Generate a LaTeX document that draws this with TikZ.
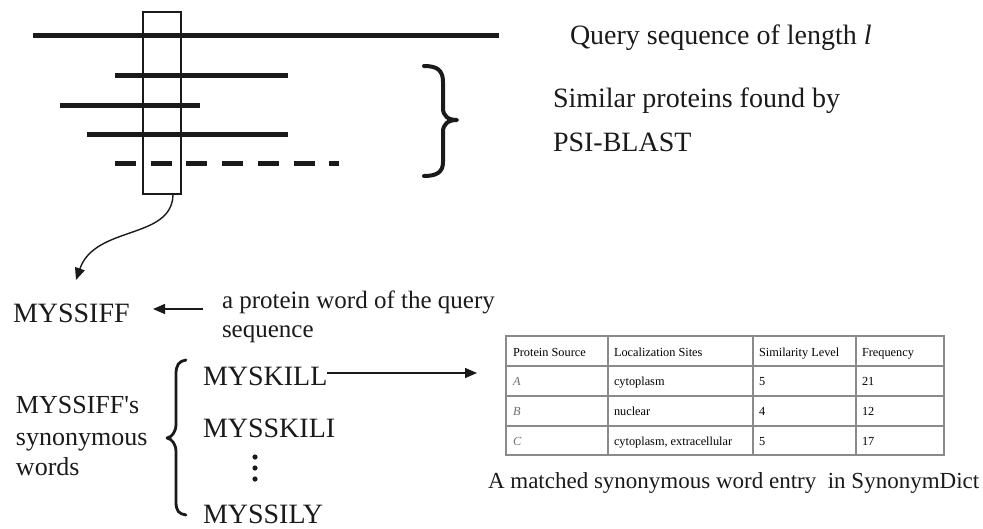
\documentclass[tikz,border=0pt]{standalone}
\usepackage{fontspec}
\setmainfont{Liberation Serif}
\usetikzlibrary{arrows.meta}
\definecolor{tblgray}{HTML}{8A8A8A}
\definecolor{ink}{HTML}{1A1A1A}
\definecolor{lettergray}{HTML}{6E6E6E}
\begin{document}
\begin{tikzpicture}[x=1pt,y=-1pt,
  txt/.style={anchor=base west, inner sep=0pt, outer sep=0pt, text=ink, font=\fontsize{28}{32}\selectfont},
  medtxt/.style={txt, font=\fontsize{26}{30}\selectfont},
  smltxt/.style={txt, font=\fontsize{25}{29}\selectfont},
  captxt/.style={txt, font=\fontsize{23}{27}\selectfont},
  celltxt/.style={txt, text=black, font=\fontsize{12.3}{14}\selectfont},
  celltxtit/.style={celltxt, text=lettergray, font=\fontsize{12.3}{14}\selectfont\itshape},
  seqline/.style={line width=5pt, draw=ink},
  seqdash/.style={seqline, dash pattern=on 21pt off 14.7pt},
  winbox/.style={draw=ink, line width=1.3pt, minimum width=38pt, minimum height=182pt, inner sep=0pt},
  bracepath/.style={draw=ink, line width=4pt, line cap=round, line join=round},
  lbracepath/.style={draw=ink, line width=2.8pt, line cap=round, line join=round},
  conn/.style={draw=ink, line width=1.4pt, -{Triangle[length=12pt,width=10pt]}},
  tblline/.style={draw=tblgray, line width=1.5pt},
]
\useasboundingbox (0,0) rectangle (983,528);

% query and similar protein sequences
\draw[seqline] (33,35) -- (499,35);
\draw[seqline] (115,75) -- (288,75);
\draw[seqline] (60,105) -- (200,105);
\draw[seqline] (87,134) -- (288,134);
\draw[seqdash] (115,163) -- (339,163);

% window
\node[winbox] (win) at (162,103) {};

% right brace
\draw[bracepath] (424,66) .. controls (437,66) and (443,70) .. (443,82) -- (443,108)
  .. controls (443,116) and (448,120) .. (457,120)
  .. controls (448,120) and (443,124) .. (443,132) -- (443,162)
  .. controls (443,172) and (437,176) .. (424,176);

\node[txt] (query) at (570,44) {Query sequence of length \textit{l}};
\node[txt] (sim1) at (553,107) {Similar proteins found by};
\node[txt] (sim2) at (553,151) {PSI-BLAST};

% protein word
\node[txt] (myssiff) at (13,322) {MYSSIFF};
\coordinate (curveend) at (76,280);
\draw[conn] ([xshift=11pt]win.south) .. controls (172,240) and (95,225) .. (curveend);

\node[smltxt] (pw1) at (222,308) {a protein word of the query};
\node[smltxt] (pw2) at (222,337) {sequence};
\coordinate (pwstart) at (203,309);
\coordinate (pwend) at (153,309);
\draw[conn] (pwstart) -- (pwend);

% synonymous words
\node[medtxt] (syn1) at (16,413) {MYSSIFF\textquotesingle s};
\node[medtxt] (syn2) at (16,445) {synonymous};
\node[medtxt] (syn3) at (16,475) {words};

\draw[lbracepath] (186,360) .. controls (179,361) and (176,365) .. (176,374) -- (176,424)
  .. controls (176,432) and (172,437) .. (167,438)
  .. controls (172,439) and (176,444) .. (176,452) -- (176,502)
  .. controls (176,511) and (179,514) .. (186,515);

\node[txt] (myskill) at (203,385) {MYSKILL};
\node[txt] (mysskili) at (203,437) {MYSSKILI};
\node[txt] (myssily) at (203,523) {MYSSILY};
\foreach \yy in {457,468,479} \fill[ink] (255,\yy) circle (2.6pt);

\coordinate (tblin) at (477,373);
\draw[conn] (myskill.east |- tblin) -- (tblin);

% table
\draw[tblline] (506,336) rectangle (944,455);
\foreach \yy in {366,396,426} \draw[tblline] (506,\yy) -- (944,\yy);
\foreach \xx in {608,753,856} \draw[tblline] (\xx,336) -- (\xx,455);

\node[celltxt] (h1) at (513,356) {Protein Source};
\node[celltxt] (h2) at (614,356) {Localization Sites};
\node[celltxt] (h3) at (759,356) {Similarity Level};
\node[celltxt] (h4) at (862,356) {Frequency};

\node[celltxtit] (a1) at (513,385) {A};
\node[celltxt] (a2) at (614,385) {cytoplasm};
\node[celltxt] (a3) at (759,385) {5};
\node[celltxt] (a4) at (862,385) {21};

\node[celltxtit] (b1) at (513,415) {B};
\node[celltxt] (b2) at (614,415) {nuclear};
\node[celltxt] (b3) at (759,415) {4};
\node[celltxt] (b4) at (862,415) {12};

\node[celltxtit] (c1) at (513,445) {C};
\node[celltxt] (c2) at (614,445) {cytoplasm, extracellular};
\node[celltxt] (c3) at (759,445) {5};
\node[celltxt] (c4) at (862,445) {17};

\node[captxt] (caption) at (488,488) {A matched synonymous word entry\ \ in SynonymDict};
\end{tikzpicture}
\end{document}
